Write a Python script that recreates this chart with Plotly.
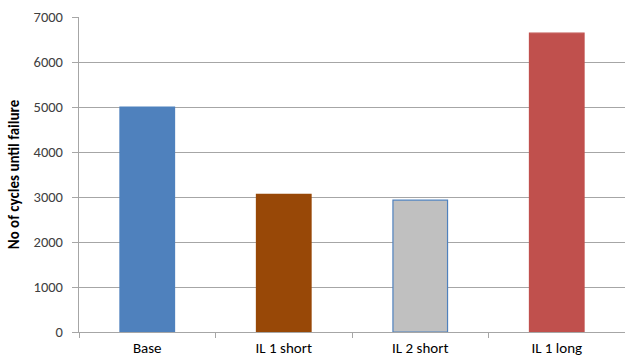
import plotly.graph_objects as go

categories = ["Base", "IL 1 short", "IL 2 short", "IL 1 long"]
cycles = [5000, 3060, 2930, 6640]
bar_colors = ["#4F81BD", "#984807", "#C0C0C0", "#C0504D"]
outline_colors = ["#4F81BD", "#984807", "#4F81BD", "#C0504D"]
y_ticks = [0, 1000, 2000, 3000, 4000, 5000, 6000, 7000]

fig = go.Figure(
    go.Bar(
        x=categories,
        y=cycles,
        width=0.4,
        marker=dict(color=bar_colors, line=dict(color=outline_colors, width=1.2)),
    )
)

font_family = "Carlito, Calibri, Lato, 'Open Sans', sans-serif"

fig.update_layout(
    width=625,
    height=360,
    margin=dict(l=79, r=0, t=17, b=28),
    paper_bgcolor="white",
    plot_bgcolor="white",
    showlegend=False,
    font=dict(family=font_family, color="#404040", size=14),
)

fig.update_yaxes(
    range=[0, 7000],
    tickvals=y_ticks,
    ticktext=[str(v) for v in y_ticks],
    showgrid=True,
    gridcolor="#A6A6A6",
    gridwidth=1.3,
    showline=True,
    linecolor="#A6A6A6",
    linewidth=1.3,
    ticks="outside",
    ticklen=6,
    tickcolor="#A6A6A6",
    ticklabelstandoff=6,
    zeroline=False,
    automargin=False,
    tickfont=dict(size=14.5, color="#404040"),
    title=dict(
        text="<b>No of cycles until failure</b>",
        font=dict(size=15, color="#000000"),
        standoff=10,
    ),
)

fig.update_xaxes(
    showgrid=False,
    showline=True,
    linecolor="#A6A6A6",
    linewidth=1.3,
    ticks="outside",
    tickson="boundaries",
    ticklen=5,
    tickcolor="#A6A6A6",
    ticklabelstandoff=2,
    automargin=False,
    tickfont=dict(size=15, color="#000000"),
)

fig.write_html("out.html")
